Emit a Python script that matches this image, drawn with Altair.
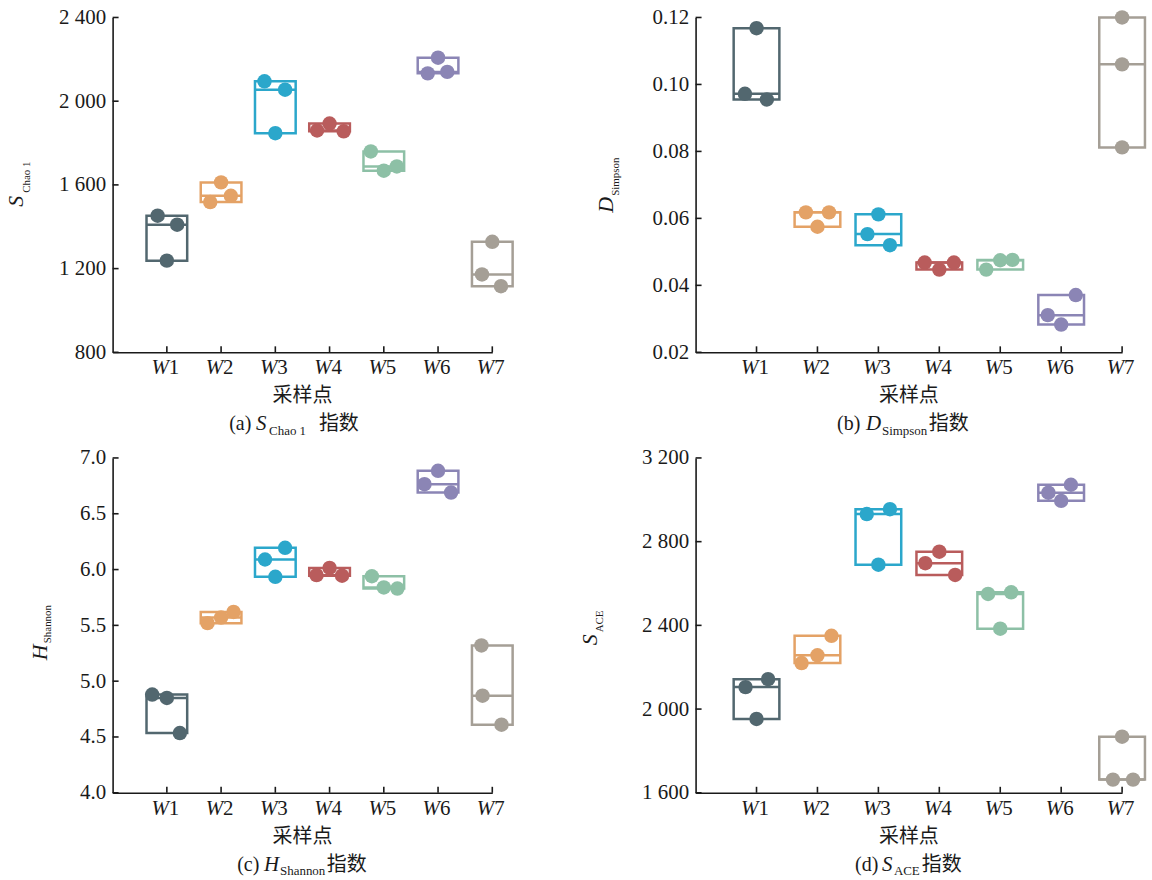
import altair as alt
import pandas as pd

# ---------------- data ----------------
sites = ["W1", "W2", "W3", "W4", "W5", "W6", "W7"]
site_num = ["1", "2", "3", "4", "5", "6", "7"]
palette = ["#52676f", "#e4a266", "#2ba7cb", "#b95c5c", "#8dc0a6", "#8b85b5", "#a59f96"]

# (a) S_Chao1
chao1 = [[1453, 1410, 1238], [1612, 1518, 1548], [2095, 2055, 1847], [1860, 1893, 1856],
         [1760, 1668, 1688], [2208, 2133, 2140], [1328, 1172, 1116]]
chao1_jit = [[-0.17, 0.19, 0.0], [0.0, -0.2, 0.18], [-0.2, 0.18, 0.0], [-0.23, 0.0, 0.26],
             [-0.24, 0.0, 0.24], [0.0, -0.19, 0.17], [0.0, -0.19, 0.16]]
chao1_ticks = [800, 1200, 1600, 2000, 2400]

# (b) D_Simpson
simpson = [[0.1168, 0.0972, 0.0955], [0.0618, 0.0618, 0.0575], [0.0612, 0.0553, 0.0520],
           [0.0468, 0.0447, 0.0468], [0.0447, 0.0475, 0.0476], [0.0311, 0.0283, 0.0371],
           [0.1200, 0.1060, 0.0812]]
simpson_jit = [[0.0, -0.19, 0.17], [-0.19, 0.19, 0.0], [0.0, -0.18, 0.19], [-0.24, 0.0, 0.24],
               [-0.23, 0.0, 0.2], [-0.22, 0.0, 0.24], [0.0, 0.0, 0.0]]
simpson_ticks = [0.02, 0.04, 0.06, 0.08, 0.10, 0.12]

# (c) H_Shannon
shannon = [[4.88, 4.85, 4.535], [5.52, 5.57, 5.62], [6.09, 6.195, 5.935], [5.95, 6.015, 5.945],
           [5.94, 5.84, 5.83], [6.885, 6.765, 6.69], [5.32, 4.87, 4.61]]
shannon_jit = [[-0.27, 0.0, 0.24], [-0.25, 0.0, 0.23], [-0.19, 0.18, 0.0], [-0.24, 0.0, 0.23],
               [-0.22, 0.0, 0.25], [0.0, -0.25, 0.24], [-0.2, -0.18, 0.17]]
shannon_ticks = [4.0, 4.5, 5.0, 5.5, 6.0, 6.5, 7.0]

# (d) S_ACE
ace = [[2105, 2143, 1953], [2220, 2257, 2350], [2932, 2955, 2690], [2697, 2752, 2641],
       [2550, 2558, 2384], [3034, 2995, 3072], [1868, 1663, 1663]]
ace_jit = [[-0.18, 0.19, 0.0], [-0.26, 0.0, 0.23], [-0.19, 0.19, 0.0], [-0.23, 0.0, 0.26],
           [-0.2, 0.18, 0.0], [-0.21, 0.0, 0.16], [0.0, -0.15, 0.18]]
ace_ticks = [1600, 2000, 2400, 2800, 3200]

xlabel_text = "采样点"

SERIF = "Liberation Serif"
MIX = "Liberation Serif, Noto Sans CJK SC"
AX = "#1a1a1a"
H = 336


def long_df(values, jit):
    rows = []
    for i, s in enumerate(sites):
        for r, (v, j) in enumerate(zip(values[i], jit[i])):
            rows.append({"site": s, "pos": i + 1, "rep": r, "value": v, "jit": j})
    return pd.DataFrame(rows)


sites_df = pd.DataFrame({"site": sites, "num": site_num, "pos": list(range(1, len(sites) + 1))})
one = pd.DataFrame({"k": [0]})


def txt(text, x, y, size, italic=False, angle=0, align="left", font=SERIF):
    kw = dict(text=text, font=font, fontSize=size, align=align, baseline="alphabetic",
              color=AX)
    if italic:
        kw["fontStyle"] = "italic"
    if angle:
        kw["angle"] = angle
    return alt.Chart(one).mark_text(**kw).encode(x=alt.value(x), y=alt.value(y))


def panel(values, jit, ydom, yticks, yexpr, width, ytitle, caption):
    df = long_df(values, jit)
    xs = alt.Scale(domain=[0, 7], nice=False, zero=False)
    ys = alt.Scale(domain=ydom, nice=False, zero=False)
    xaxis = alt.Axis(labels=False, ticks=False, grid=False, title=None,
                     domainColor=AX, domainWidth=1.6)
    yaxis = alt.Axis(values=yticks, labelExpr=yexpr, ticks=False, grid=False, title=None,
                     domainColor=AX, domainWidth=1.6, labelFont=SERIF, labelFontSize=21,
                     labelColor=AX, labelPadding=7)
    cscale = alt.Scale(domain=sites, range=palette)

    def X(f):
        return alt.X(f, scale=xs, axis=xaxis)

    def Y(f):
        return alt.Y(f, scale=ys, axis=yaxis)

    base = alt.Chart(df)
    agg = base.transform_aggregate(
        lo="min(value)", hi="max(value)", med="median(value)", groupby=["site", "pos"]
    ).transform_calculate(xl="datum.pos - 0.375", xr="datum.pos + 0.375")

    box = agg.mark_rect(fillOpacity=0, strokeWidth=2.5).encode(
        x=X("xl:Q"), x2="xr:Q", y=Y("lo:Q"), y2="hi:Q",
        stroke=alt.Stroke("site:N", scale=cscale, legend=None))
    med = agg.mark_rule(strokeWidth=2.5).encode(
        x=X("xl:Q"), x2="xr:Q", y=Y("med:Q"),
        color=alt.Color("site:N", scale=cscale, legend=None))
    pts = base.transform_calculate(xp="datum.pos + datum.jit").mark_circle(
        size=210, opacity=1).encode(
        x=X("xp:Q"), y=Y("value:Q"),
        color=alt.Color("site:N", scale=cscale, legend=None))

    yt = alt.Chart(pd.DataFrame({"v": yticks})).mark_rule(color=AX, strokeWidth=1.6).encode(
        y=Y("v:Q"), x=alt.value(0), x2=alt.value(6))
    xt = alt.Chart(sites_df).mark_rule(color=AX, strokeWidth=1.6).encode(
        x=X("pos:Q"), y=alt.value(H), y2=alt.value(H - 6))
    xw = alt.Chart(sites_df).mark_text(text="W", font=SERIF, fontStyle="italic", fontSize=21,
                                       align="right", dx=2, baseline="alphabetic",
                                       color=AX).encode(
        x=X("pos:Q"), y=alt.value(H + 22))
    xn = alt.Chart(sites_df).mark_text(font=SERIF, fontSize=21, align="left", dx=2,
                                       baseline="alphabetic", color=AX).encode(
        x=X("pos:Q"), y=alt.value(H + 22), text="num:N")

    layers = [box, med, pts, yt, xt, xw, xn]
    (m, mx, my), (s, sx, sy) = ytitle
    layers.append(txt(m, mx, my, 22, italic=True, angle=270))
    layers.append(txt(s, sx, sy, 11, angle=270))
    layers.append(txt(xlabel_text, width / 2, H + 50, 20, align="center", font=MIX))
    for (t, cx, size, italic, dy) in caption:
        layers.append(txt(t, cx, H + 78 + dy, size, italic=italic, font=MIX))
    return alt.layer(*layers).properties(width=width, height=H)


thou = "replace(format(datum.value, ','), ',', ' ')"

pa = panel(chao1, chao1_jit, [800, 2400], chao1_ticks, thou, 381,
           (("S", -90, 190), ("Chao 1", -83, 176)),
           [("(a)", 117, 20, False, 0), ("S", 144, 21, True, 0),
            ("Chao 1", 157, 13, False, 5), ("指数", 207, 20, False, 0)])
pb = panel(simpson, simpson_jit, [0.02, 0.12], simpson_ticks,
           "format(datum.value, '.2f')", 428,
           (("D", -83, 196), ("Simpson", -77, 179)),
           [("(b)", 142, 20, False, 0), ("D", 171, 21, True, 0),
            ("Simpson", 187, 13, False, 5), ("指数", 234, 20, False, 0)])
pc = panel(shannon, shannon_jit, [4.0, 7.0], shannon_ticks,
           "format(datum.value, '.1f')", 381,
           (("H", -66, 203), ("Shannon", -62, 186)),
           [("(c)", 125, 20, False, 0), ("H", 152, 21, True, 0),
            ("Shannon", 168, 13, False, 5), ("指数", 215, 20, False, 0)])
pd_ = panel(ace, ace_jit, [1600, 3200], ace_ticks, thou, 428,
            (("S", -99, 188), ("ACE", -93, 175)),
            [("(d)", 160, 20, False, 0), ("S", 187, 21, True, 0),
             ("ACE", 199, 13, False, 5), ("指数", 227, 20, False, 0)])

chart = alt.concat(
    pa, pb, pc, pd_, columns=2,
    spacing={"row": 106, "column": 204}, bounds="flush",
).properties(
    padding={"left": 5, "top": 5, "right": 5, "bottom": 5}
).configure_view(stroke=None)

chart.save("out.html", embed_options={"renderer": "svg", "actions": False})
